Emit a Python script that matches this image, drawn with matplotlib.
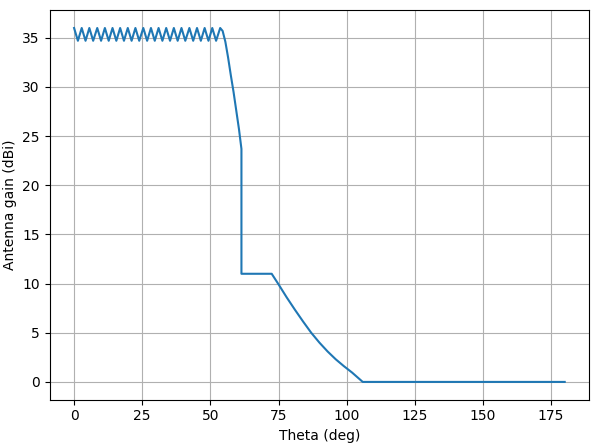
import matplotlib
matplotlib.use("Agg")
import matplotlib.pyplot as plt

# ripple region (peaks and valleys)
ripple_theta = [0.0, 1.4, 2.8, 4.2, 5.6, 7.0, 8.5, 9.9, 11.3, 12.7, 14.1, 15.5,
                16.9, 18.3, 19.7, 21.1, 22.5, 23.9, 25.4, 26.8, 28.2, 29.6,
                31.0, 32.4, 33.8, 35.2, 36.6, 38.0, 39.4, 40.8, 42.3, 43.7,
                45.1, 46.5, 47.9, 49.3, 50.7, 52.1, 53.6]
ripple_gain = [36.0, 34.7, 36.0, 34.7, 36.0, 34.7, 36.0, 34.7, 36.0, 34.7,
               36.0, 34.7, 36.0, 34.7, 36.0, 34.7, 36.0, 34.7, 36.0, 34.7,
               36.0, 34.7, 36.0, 34.7, 36.0, 34.7, 36.0, 34.7, 36.0, 34.7,
               36.0, 34.7, 36.0, 34.7, 36.0, 34.7, 36.0, 34.7, 36.0]

# main lobe edge, step and flat shoulder
edge_theta = [54.5, 55.5, 56.5, 57.5, 58.5, 59.5, 60.5, 61.4, 61.4, 72.5]
edge_gain = [35.7, 34.6, 33.0, 31.2, 29.5, 27.6, 25.7, 23.7, 11.0, 11.0]

# far sidelobe envelope down to the 0 dBi floor
tail_theta = [75.0, 78.0, 81.0, 84.0, 87.0, 90.0, 93.0, 96.0, 99.0, 102.0,
              105.9, 180.0]
tail_gain = [9.93, 8.6, 7.35, 6.15, 5.0, 4.0, 3.1, 2.3, 1.6, 0.95,
             0.0, 0.0]

theta = ripple_theta + edge_theta + tail_theta
gain = ripple_gain + edge_gain + tail_gain

fig, ax = plt.subplots(figsize=(5.97, 4.48), dpi=100)
ax.plot(theta, gain)
ax.set_xlabel('Theta (deg)')
ax.set_ylabel('Antenna gain (dBi)')
ax.grid(True)
fig.subplots_adjust(left=0.083, right=0.987, top=0.977, bottom=0.108)
fig.savefig('out.png', dpi=100)
